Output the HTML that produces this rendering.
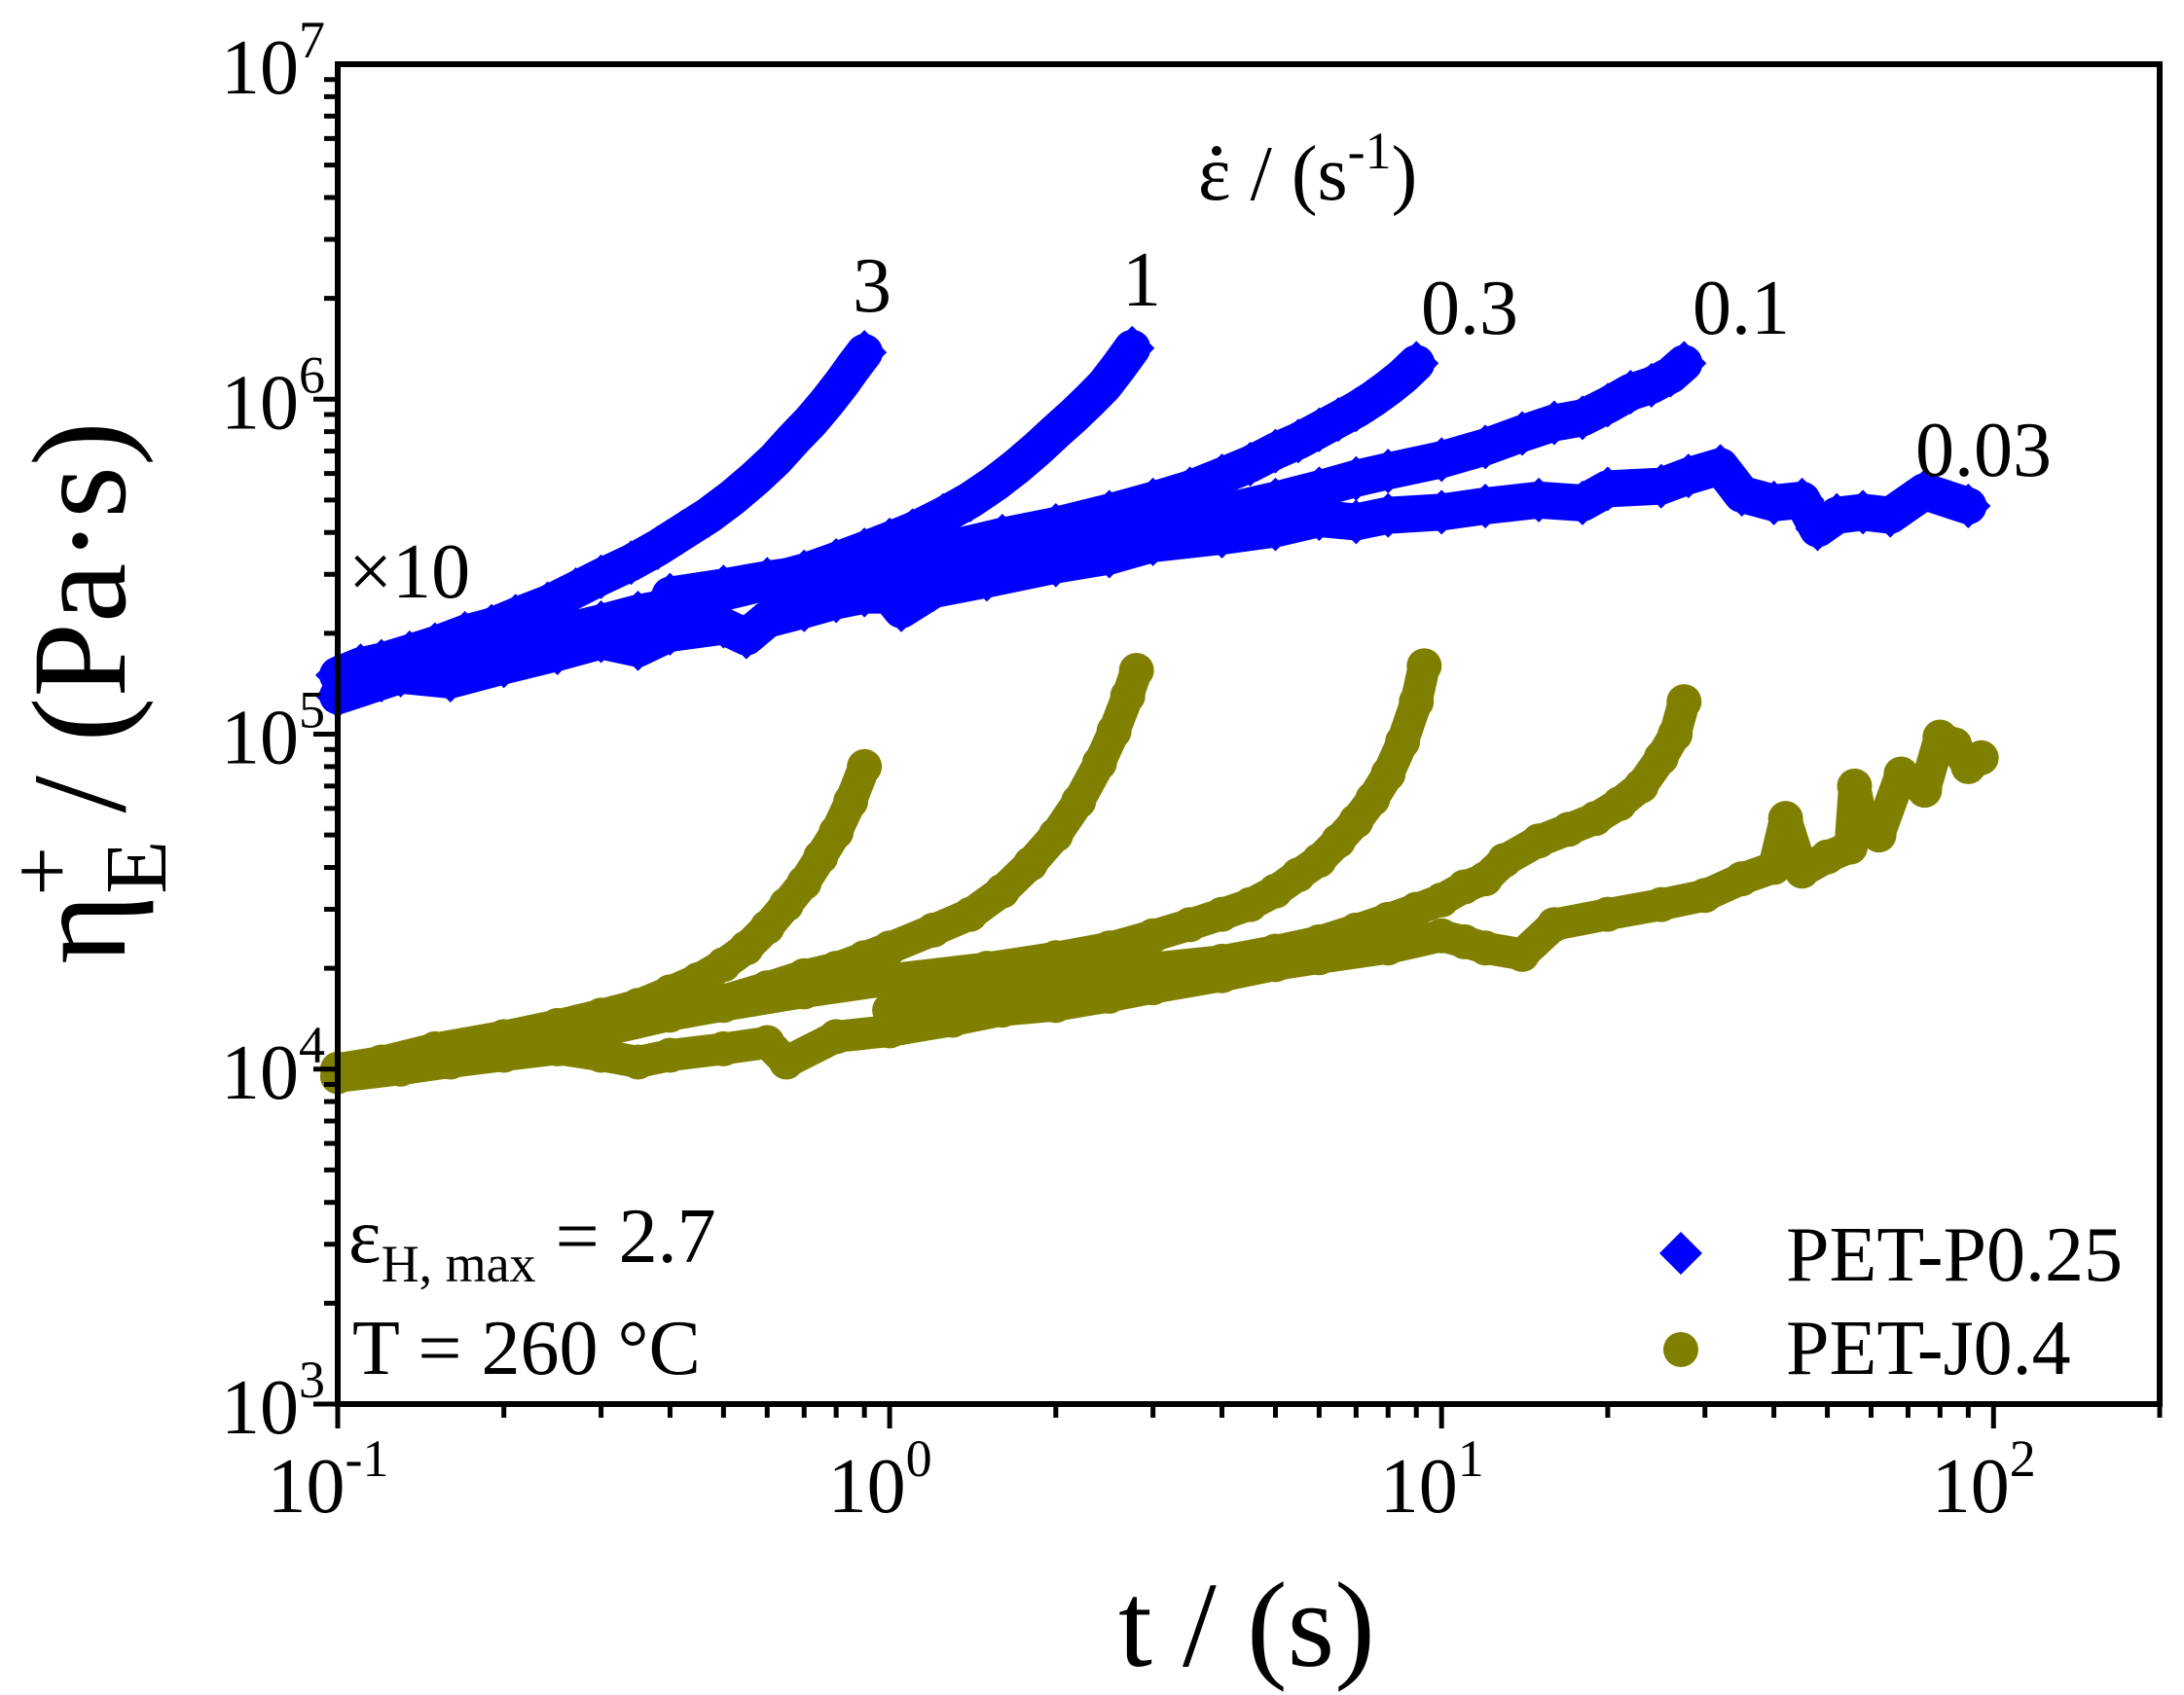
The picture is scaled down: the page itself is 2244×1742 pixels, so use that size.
<!DOCTYPE html>
<html><head><meta charset="utf-8"><style>
html,body{margin:0;padding:0;background:#fff;}
svg{display:block;font-family:"Liberation Serif",serif;}
</style></head><body>
<svg id="chart" width="2244" height="1742" viewBox="0 0 2244 1742" xmlns="http://www.w3.org/2000/svg">
<g id="marks"></g>
<g id="axes"></g>
<text x="1231" y="205" font-size="80">ε / (s<tspan font-size="54" dy="-32">-1</tspan><tspan dy="32">)</tspan></text>
<circle cx="1250" cy="155" r="5" fill="#000"/>
<text x="896" y="320" font-size="80" text-anchor="middle">3</text>
<text x="1173" y="314" font-size="80" text-anchor="middle">1</text>
<text x="1460" y="343" font-size="80">0.3</text>
<text x="1739" y="343" font-size="80">0.1</text>
<text x="1968" y="489" font-size="80">0.03</text>
<text x="358" y="614" font-size="80">×10</text>
<text x="358" y="1297" font-size="80">ε<tspan font-size="54" dy="20">H, max</tspan><tspan dy="-20"> = 2.7</tspan></text>
<text x="362" y="1412" font-size="80">T = 260 °C</text>
<g>
<polygon points="1727,1266 1749,1288 1727,1310 1705,1288" fill="#0000ff"/>
<text x="1835" y="1316" font-size="80">PET-P0.25</text>
<circle cx="1727" cy="1387" r="18" fill="#808000"/>
<text x="1835" y="1412" font-size="80">PET-J0.4</text>
</g>
<text x="1281" y="1712" font-size="125" text-anchor="middle">t / (s)</text>
<text transform="translate(128,712) rotate(-90)" font-size="138" text-anchor="middle">η<tspan font-size="90" dy="42">E</tspan><tspan font-size="90" dx="-57" dy="-97">+</tspan><tspan dy="55"> / (Pa·s)</tspan></text>
</svg>
<script>
// ---- data (t in s, eta in Pa·s; PET-P0.25 already shifted ×10) ----
const p_r3_t=[0.10,0.11,0.12,0.135,0.15,0.17,0.19,0.21,0.24,0.27,0.30,0.34,0.38,0.42,0.47,0.52,0.57,0.62,0.67,0.72,0.77,0.82,0.86,0.90];
const p_r3_eta=[1.5e5,1.6e5,1.65e5,1.75e5,1.85e5,2.0e5,2.1e5,2.25e5,2.45e5,2.7e5,2.95e5,3.25e5,3.6e5,4.0e5,4.5e5,5.1e5,5.8e5,6.6e5,7.6e5,8.6e5,9.8e5,1.12e6,1.25e6,1.38e6];
const p_r1_t=[0.12,0.15,0.2,0.25,0.3,0.35,0.4,0.45,0.5,0.6,0.7,0.8,0.9,1.0,1.1,1.25,1.4,1.55,1.7,1.85,2.0,2.15,2.3,2.45,2.6,2.75];
const p_r1_eta=[1.45e5,1.6e5,1.8e5,2.0e5,2.15e5,2.3e5,2.4e5,2.55e5,2.65e5,2.85e5,3.05e5,3.3e5,3.55e5,3.8e5,4.05e5,4.5e5,5.0e5,5.6e5,6.3e5,7.1e5,8.0e5,8.9e5,9.9e5,1.1e6,1.25e6,1.42e6];
const p_r03_t=[0.4,0.5,0.6,0.8,1,1.3,1.6,2,2.5,3,3.5,4,4.5,5,5.5,6,6.5,7,7.5,8,8.5,9];
const p_r03_eta=[2.6e5,2.75e5,2.9e5,3.1e5,3.3e5,3.6e5,3.9e5,4.2e5,4.6e5,5.0e5,5.4e5,5.9e5,6.4e5,7.0e5,7.5e5,8.1e5,8.7e5,9.3e5,1.0e6,1.08e6,1.17e6,1.28e6];
const p_r01_t=[1,1.5,2,3,4,5,6,7,8,10,12,14,16,18,20,22,24,26,27.5];
const p_r01_eta=[3.0e5,3.4e5,3.7e5,4.2e5,4.6e5,5.0e5,5.4e5,5.8e5,6.1e5,6.6e5,7.2e5,7.9e5,8.5e5,8.8e5,9.6e5,1.05e6,1.1e6,1.18e6,1.28e6];
const p_r003_t=[0.1,0.13,0.16,0.2,0.25,0.3,0.35,0.4,0.5,0.55,0.6,0.7,0.8,0.9,1.0,1.05,1.2,1.5,2,2.5,3,4,5,6,7,8,10,12,15,18,20,25,28,32,35,40,45,48,52,58,65,70,75,90];
const p_r003_eta=[1.3e5,1.5e5,1.45e5,1.6e5,1.75e5,1.9e5,1.8e5,2.0e5,2.1e5,1.95e5,2.2e5,2.35e5,2.5e5,2.6e5,2.6e5,2.35e5,2.7e5,2.9e5,3.2e5,3.4e5,3.7e5,3.9e5,4.1e5,4.4e5,4.3e5,4.5e5,4.6e5,4.8e5,5.0e5,4.9e5,5.4e5,5.5e5,5.9e5,6.3e5,5.2e5,4.9e5,5.0e5,4.1e5,4.5e5,4.6e5,4.5e5,4.9e5,5.3e5,4.8e5];
const j_r3_t=[0.1,0.12,0.15,0.2,0.25,0.3,0.35,0.4,0.45,0.5,0.55,0.6,0.65,0.7,0.75,0.8,0.85,0.9];
const j_r3_eta=[1.0e4,1.05e4,1.15e4,1.25e4,1.35e4,1.45e4,1.55e4,1.7e4,1.85e4,2.05e4,2.3e4,2.65e4,3.1e4,3.6e4,4.3e4,5.1e4,6.3e4,8.0e4];
const j_r1_t=[0.1,0.15,0.2,0.3,0.4,0.5,0.6,0.7,0.8,0.9,1.0,1.2,1.4,1.6,1.8,2.0,2.2,2.4,2.55,2.7,2.8];
const j_r1_eta=[0.95e4,1.05e4,1.2e4,1.35e4,1.5e4,1.6e4,1.75e4,1.9e4,2.0e4,2.15e4,2.3e4,2.6e4,2.9e4,3.4e4,4.1e4,5.0e4,6.3e4,8.2e4,1.02e5,1.3e5,1.55e5];
const j_r03_t=[0.3,0.4,0.5,0.7,1,1.5,2,2.5,3,3.5,4,4.5,5,5.5,6,6.5,7,7.5,8,8.5,9,9.3];
const j_r03_eta=[1.3e4,1.45e4,1.55e4,1.7e4,1.85e4,2.0e4,2.15e4,2.3e4,2.5e4,2.7e4,2.9e4,3.1e4,3.4e4,3.8e4,4.2e4,4.8e4,5.5e4,6.4e4,7.6e4,9.5e4,1.25e5,1.6e5];
const j_r01_t=[1,1.5,2,3,4,5,6,7,8,9,10,11,12,13,15,17,19,21,23,25,26.5,27.5];
const j_r01_eta=[1.5e4,1.7e4,1.8e4,2.0e4,2.1e4,2.25e4,2.4e4,2.6e4,2.8e4,3.0e4,3.2e4,3.5e4,3.7e4,4.2e4,4.8e4,5.2e4,5.6e4,6.2e4,7.0e4,8.5e4,1.0e5,1.25e5];
const j_r003_t=[0.1,0.13,0.16,0.2,0.25,0.3,0.35,0.4,0.5,0.6,0.65,0.8,1,1.3,1.6,2,2.5,3,4,5,6,8,10,11,12,14,16,20,25,30,35,40,42,45,50,55,56,58,62,68,75,80,85,90,95];
const j_r003_eta=[0.95e4,1.0e4,1.05e4,1.1e4,1.15e4,1.1e4,1.05e4,1.1e4,1.15e4,1.2e4,1.05e4,1.25e4,1.3e4,1.4e4,1.5e4,1.55e4,1.65e4,1.75e4,1.9e4,2.05e4,2.15e4,2.3e4,2.5e4,2.4e4,2.3e4,2.2e4,2.7e4,2.9e4,3.1e4,3.3e4,3.7e4,4.0e4,5.6e4,3.9e4,4.3e4,4.6e4,7.0e4,5.3e4,5.0e4,7.6e4,6.8e4,9.8e4,9.3e4,8.0e4,8.5e4];
const xTickExp=[-1,0,1,2];
const yTickExp=[3,4,5,6,7];

// ---- axes ----
const L=347,R=2219,T=66,B=1443;
const XMIN=-1,XMAX=Math.log10(200),YMIN=3,YMAX=7;
function sx(t){return L+(Math.log10(t)-XMIN)/(XMAX-XMIN)*(R-L);}
function sy(v){return B-(Math.log10(v)-YMIN)/(YMAX-YMIN)*(B-T);}
const NS='http://www.w3.org/2000/svg';
function mk(tag,attrs,parent){const e=document.createElementNS(NS,tag);for(const k in attrs)e.setAttribute(k,attrs[k]);parent.appendChild(e);return e;}
const marks=document.getElementById('marks'), axes=document.getElementById('axes');

function band(ts,vs,color,w,name){
  const pts=ts.map((t,i)=>sx(t)+','+sy(vs[i])).join(' ');
  const pl=mk('polyline',{points:pts,fill:'none',stroke:color,'stroke-width':w,'stroke-linejoin':'round','stroke-linecap':'round'},marks);
  
  
}
function diamonds(ts,vs,name){
  band(ts,vs,'#0000ff',38,name+'-band');
  const g=mk('g',{},marks);
  
  
  for(let i=0;i<ts.length;i++){
    const x=sx(ts[i]),y=sy(vs[i]),h=23;
    const p=mk('polygon',{points:`${x},${y-h} ${x+h},${y} ${x},${y+h} ${x-h},${y}`,fill:'#0000ff'},g);
    
    
  }
}
function circles(ts,vs,name){
  band(ts,vs,'#808000',33,name+'-band');
  const g=mk('g',{},marks);
  
  
  for(let i=0;i<ts.length;i++){
    const c=mk('circle',{cx:sx(ts[i]),cy:sy(vs[i]),r:18,fill:'#808000'},g);
    
    
  }
}
diamonds(p_r003_t,p_r003_eta,'pet-p025-rate-0.03');
diamonds(p_r01_t,p_r01_eta,'pet-p025-rate-0.1');
diamonds(p_r03_t,p_r03_eta,'pet-p025-rate-0.3');
diamonds(p_r1_t,p_r1_eta,'pet-p025-rate-1');
diamonds(p_r3_t,p_r3_eta,'pet-p025-rate-3');
circles(j_r003_t,j_r003_eta,'pet-j04-rate-0.03');
circles(j_r01_t,j_r01_eta,'pet-j04-rate-0.1');
circles(j_r03_t,j_r03_eta,'pet-j04-rate-0.3');
circles(j_r1_t,j_r1_eta,'pet-j04-rate-1');
circles(j_r3_t,j_r3_eta,'pet-j04-rate-3');

const frame=mk('rect',{x:L,y:T,width:R-L,height:B-T,fill:'none',stroke:'#000','stroke-width':6},axes);


// x ticks
for(let e=-1;e<=2;e++){for(let m=1;m<=9;m++){const v=m*Math.pow(10,e);if(v>200.01)break;const x=sx(v);
  const tk=mk('line',{x1:x,x2:x,y1:B,y2:B+(m===1?25:14),stroke:'#000','stroke-width':5},axes);
  
  }}
xTickExp.forEach(e=>{const tx=mk('text',{x:sx(Math.pow(10,e))-10,y:1554,'font-size':80,'text-anchor':'middle'},axes);
  
  
  tx.innerHTML=`10<tspan font-size="54" dy="-37">${e}</tspan>`;});
// y ticks
for(let e=3;e<=6;e++){for(let m=1;m<=9;m++){const v=m*Math.pow(10,e);const y=sy(v);
  const tk=mk('line',{x1:L,x2:L-(m===1?25:14),y1:y,y2:y,stroke:'#000','stroke-width':5},axes);
  
  }}
yTickExp.forEach(e=>{const tx=mk('text',{x:334,y:sy(Math.pow(10,e))+30,'font-size':80,'text-anchor':'end'},axes);
  
  
  tx.innerHTML=`10<tspan font-size="54" dy="-37">${e}</tspan>`;});
</script>
</body></html>
